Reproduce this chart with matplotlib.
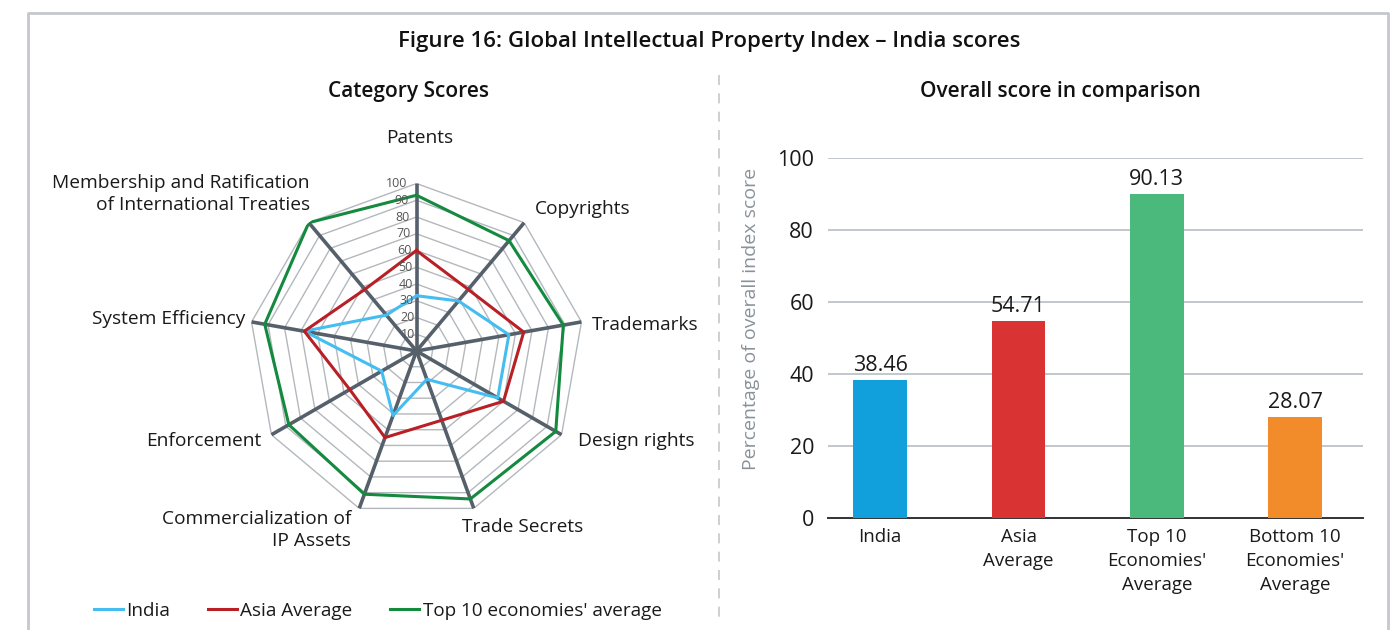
import matplotlib.pyplot as plt
import numpy as np

plt.rcParams['font.family'] = ['Open Sans', 'DejaVu Sans']

# radar data (clockwise from top)
categories = ['Patents', 'Copyrights', 'Trademarks', 'Design rights', 'Trade Secrets',
              'Commercialization of\nIP Assets', 'Enforcement', 'System Efficiency',
              'Membership and Ratification\nof International Treaties']
india = [33, 39, 56, 56, 18, 41, 24, 68, 28]
asia = [60, 48, 65, 60, 44, 55, 46, 68, 48]
top10 = [93, 86, 89, 96, 94, 91, 88, 92, 100]

# bar data
bar_labels = ['India', 'Asia\nAverage', "Top 10\nEconomies'\nAverage", "Bottom 10\nEconomies'\nAverage"]
bar_values = [38.46, 54.71, 90.13, 28.07]
bar_colors = ['#12a0dc', '#d93333', '#4bb97c', '#f28c2b']

W, H = 1399, 630
fig = plt.figure(figsize=(W / 100, H / 100), dpi=100)


def fx(x):
    return x / W


def fy(y):
    return 1 - y / H


# outer frame and separator
fig.add_artist(plt.Line2D([fx(28), fx(28), fx(1388), fx(1388)], [0, fy(13), fy(13), 0],
                          color='#c4c8cc', lw=2))
fig.add_artist(plt.Line2D([fx(718.5), fx(718.5)], [fy(75), fy(625)], color='#c4c8cc', lw=1.2,
                          linestyle=(0, (6, 5))))

fig.text(fx(709), fy(41), 'Figure 16: Global Intellectual Property Index \u2013 India scores',
         ha='center', va='center', fontsize=16, fontweight='semibold', color='#111111')
fig.text(fx(409), fy(91), 'Category Scores', ha='center', va='center', fontsize=15,
         fontweight='semibold', color='#111111')
fig.text(fx(1060), fy(91), 'Overall score in comparison', ha='center', va='center', fontsize=15,
         fontweight='semibold', color='#111111')

# ---- radar ----
cx, cy, R = 416.5, 351, 167.5
ax = fig.add_axes([fx(cx - R), fy(cy + R), 2 * R / W, 2 * R / H], projection='polar')
ax.set_theta_zero_location('N')
ax.set_theta_direction(-1)
ax.set_ylim(0, 100)
ax.grid(False)
ax.set_xticks([])
ax.set_yticks([])
ax.spines['polar'].set_visible(False)
ax.patch.set_alpha(0)

n = len(categories)
theta = np.arange(n) * 2 * np.pi / n
theta_c = np.append(theta, theta[0])

for lvl in range(10, 101, 10):
    ax.plot(theta_c, [lvl] * (n + 1), color='#b3b8bd', lw=1.0, zorder=1)
for t in theta:
    ax.plot([t, t], [0, 100], color='#56606b', lw=2.6, zorder=2)

series = [(india, '#45bdf0', 'India'), (asia, '#b82025', 'Asia Average'),
          (top10, '#138a3e', "Top 10 economies' average")]
handles = []
for vals, col, lab in series:
    h, = ax.plot(theta_c, vals + vals[:1], color=col, lw=2.2, zorder=3, label=lab)
    handles.append(h)

for lvl in range(10, 101, 10):
    ax.text(np.deg2rad(-3), lvl, str(lvl), ha='right', va='center', fontsize=9,
            color='#555555', zorder=4)

label_pos = [(420, 138, 'center'), (535, 209, 'left'), (592, 325, 'left'),
             (578, 441, 'left'), (462, 527, 'left'), (351, 530, 'right'),
             (261, 441, 'right'), (245, 319, 'right'), (310, 194, 'right')]
for cat, (x, y, ha) in zip(categories, label_pos):
    fig.text(fx(x), fy(y), cat, ha=ha, va='center', fontsize=13.8, color='#1a1a1a',
             linespacing=1.25)

fig.legend(handles=handles, loc='center', bbox_to_anchor=(fx(378), fy(611)), ncol=3,
           frameon=False, fontsize=13.6, handlelength=1.5, handletextpad=0.2,
           columnspacing=2.0, labelcolor='#1a1a1a')

# ---- bars ----
bx = fig.add_axes([fx(828), fy(518), (1363 - 828) / W, 360 / H])
xs = np.arange(len(bar_values))
bx.bar(xs, bar_values, width=0.39, color=bar_colors, zorder=3)
for x, v in zip(xs, bar_values):
    bx.text(x, v + 1.0, f'{v:.2f}', ha='center', va='bottom', fontsize=15.5, color='#1a1a1a')
bx.set_xlim(-0.377, 3.49)
bx.set_ylim(0, 100)
bx.set_yticks(range(0, 101, 20))
bx.set_xticks(xs)
bx.set_xticklabels(bar_labels, fontsize=13.5, color='#1a1a1a', linespacing=1.45, va='top')
bx.tick_params(axis='y', labelsize=15.5, length=0, pad=10, labelcolor='#1a1a1a')
bx.tick_params(axis='x', length=0, pad=7)
bx.grid(axis='y', color='#b8bec5', lw=1.2, zorder=0)
for s in ['top', 'right', 'left']:
    bx.spines[s].set_visible(False)
bx.spines['bottom'].set_color('#333333')
bx.spines['bottom'].set_linewidth(1.4)
bx.set_ylabel('Percentage of overall index score', fontsize=14, color='#8a9199')
bx.yaxis.set_label_coords(-0.128, 0.553)

fig.savefig('out.png', dpi=100)
